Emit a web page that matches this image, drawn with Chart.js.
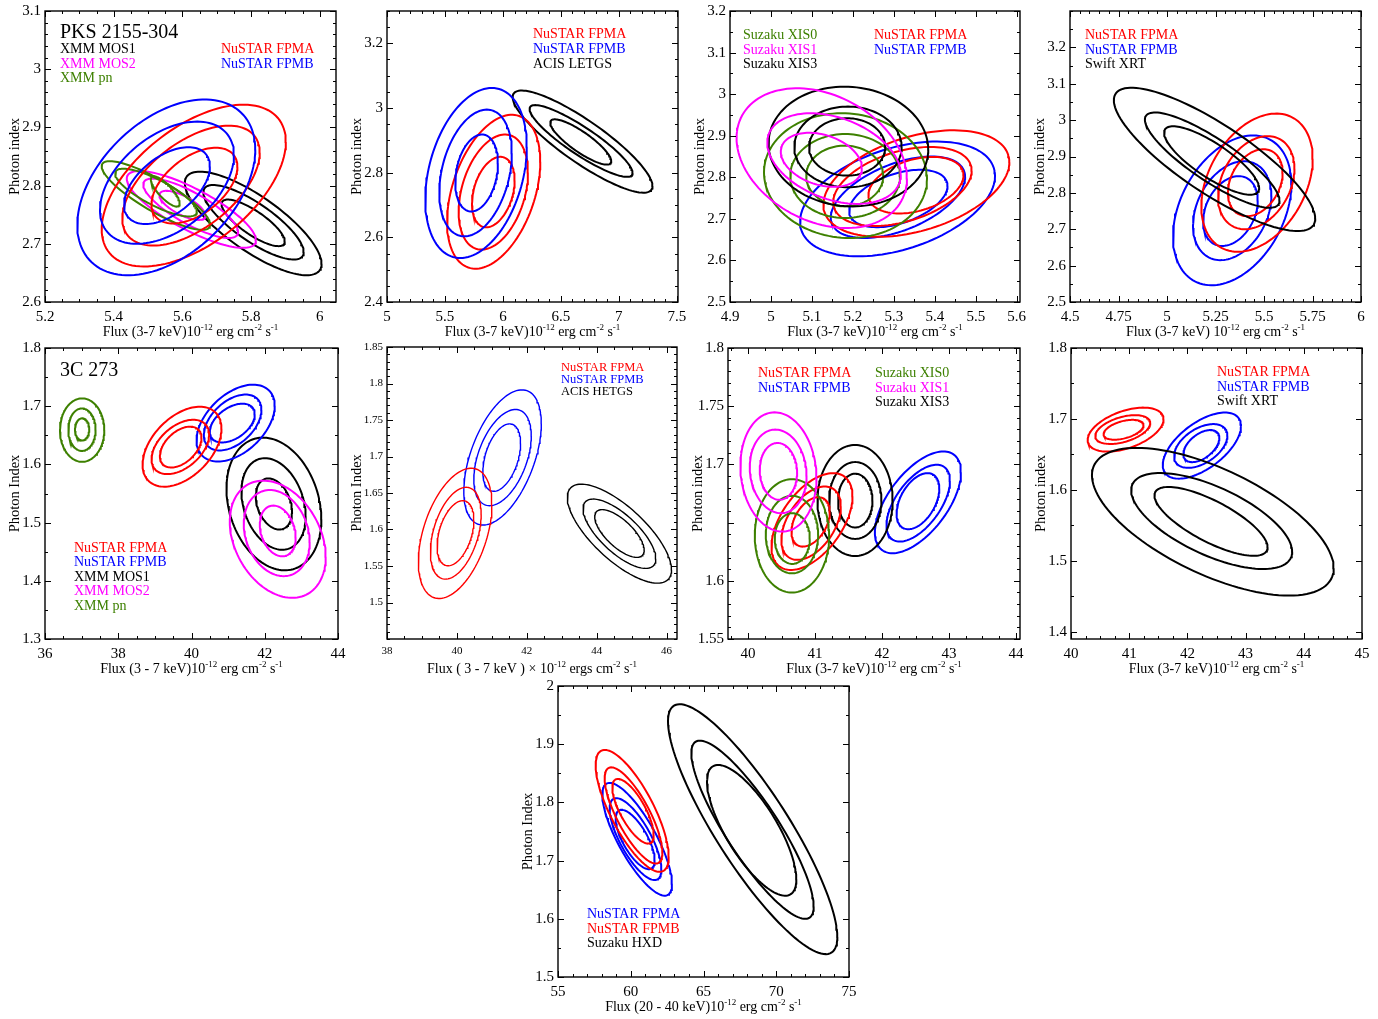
<!DOCTYPE html>
<html>
<head>
<meta charset="utf-8"/>
<title>Flux vs photon index contours</title>
<style>
  body { margin: 0; background: #fff; }
  #wrap { position: relative; width: 1378px; height: 1019px; overflow: hidden; }
  .pane { position: absolute; }
</style>
</head>
<body>
<div id="wrap"></div>
<script src="https://cdn.jsdelivr.net/npm/chart.js"></script>
<script>
// each contour: [centre flux, centre photon index, half width (flux), half height (index), tilt]
// tilt = correlation, the top of the contour sits at flux = centre + halfwidth * tilt

// PKS 2155-304 with XMM
const pksXmm_fpma = [[5.633, 2.800, 0.268, 0.139, 0.54], [5.625, 2.800, 0.200, 0.103, 0.55], [5.635, 2.800, 0.125, 0.065, 0.5]];
const pksXmm_fpmb = [[5.553, 2.797, 0.259, 0.151, 0.43], [5.555, 2.805, 0.195, 0.105, 0.45], [5.555, 2.800, 0.125, 0.066, 0.5]];
const pksXmm_pn   = [[5.523, 2.783, 0.158, 0.059, -0.85], [5.523, 2.788, 0.119, 0.041, -0.8], [5.550, 2.790, 0.042, 0.026, -0.8]];
const pksXmm_mos2 = [[5.626, 2.759, 0.188, 0.066, -0.8], [5.624, 2.761, 0.138, 0.051, -0.8], [5.600, 2.766, 0.067, 0.025, -0.7]];
const pksXmm_mos1 = [[5.806, 2.735, 0.199, 0.089, -0.78], [5.807, 2.737, 0.146, 0.064, -0.8], [5.806, 2.736, 0.092, 0.040, -0.8]];
const pksXmm_xTicks = [5.2, 5.4, 5.6, 5.8, 6];
const pksXmm_yTicks = [2.6, 2.7, 2.8, 2.9, 3, 3.1];

// PKS 2155-304 with Chandra LETGS
const pksLetg_fpma = [[5.920, 2.741, 0.402, 0.238, 0.39], [5.917, 2.740, 0.299, 0.178, 0.34], [5.917, 2.740, 0.184, 0.109, 0.33]];
const pksLetg_fpmb = [[5.768, 2.799, 0.438, 0.263, 0.31], [5.764, 2.799, 0.313, 0.196, 0.31], [5.773, 2.799, 0.184, 0.119, 0.25]];
const pksLetg_acis = [[6.687, 2.896, 0.603, 0.158, -0.87], [6.674, 2.898, 0.444, 0.111, -0.89], [6.671, 2.895, 0.263, 0.070, -0.85]];
const pksLetg_xTicks = [5, 5.5, 6, 6.5, 7, 7.5];
const pksLetg_yTicks = [2.4, 2.6, 2.8, 3, 3.2];

// PKS 2155-304 with Suzaku
const pksSuz_xis0 = [[5.182, 2.804, 0.199, 0.150, -0.05], [5.181, 2.803, 0.134, 0.101, 0], [5.180, 2.803, 0.094, 0.073, 0]];
const pksSuz_xis1 = [[5.124, 2.846, 0.208, 0.168, -0.29], [5.154, 2.845, 0.163, 0.109, -0.35], [5.123, 2.842, 0.099, 0.065, -0.3]];
const pksSuz_xis3 = [[5.189, 2.874, 0.195, 0.144, -0.05], [5.188, 2.873, 0.131, 0.097, 0], [5.186, 2.873, 0.093, 0.069, 0]];
const pksSuz_fpma = [[5.355, 2.785, 0.227, 0.128, 0.4], [5.321, 2.778, 0.169, 0.095, 0.4], [5.354, 2.781, 0.116, 0.068, 0.35]];
const pksSuz_fpmb = [[5.309, 2.748, 0.238, 0.138, 0.4], [5.310, 2.752, 0.164, 0.098, 0.5], [5.311, 2.749, 0.120, 0.069, 0.44]];
const pksSuz_xTicks = [4.9, 5, 5.1, 5.2, 5.3, 5.4, 5.5, 5.6];
const pksSuz_yTicks = [2.5, 2.6, 2.7, 2.8, 2.9, 3, 3.1, 3.2];

// PKS 2155-304 with Swift
const pksXrt_fpma = [[5.464, 2.828, 0.287, 0.190, 0.345], [5.460, 2.828, 0.197, 0.128, 0.3], [5.455, 2.828, 0.141, 0.092, 0.3]];
const pksXrt_fpmb = [[5.336, 2.752, 0.305, 0.206, 0.35], [5.336, 2.751, 0.202, 0.136, 0.3], [5.327, 2.750, 0.141, 0.096, 0.3]];
const pksXrt_xrt  = [[5.245, 2.892, 0.519, 0.197, -0.825], [5.233, 2.890, 0.347, 0.131, -0.85], [5.230, 2.889, 0.245, 0.094, -0.81]];
const pksXrt_xTicks = [4.5, 4.75, 5, 5.25, 5.5, 5.75, 6];
const pksXrt_yTicks = [2.5, 2.6, 2.7, 2.8, 2.9, 3, 3.1, 3.2];

// 3C 273 with XMM
const c3Xmm_fpma = [[39.741, 1.6304, 1.077, 0.0687, 0.45], [39.695, 1.6300, 0.786, 0.0467, 0.45], [39.705, 1.6298, 0.568, 0.0351, 0.45]];
const c3Xmm_fpmb = [[41.205, 1.6710, 1.068, 0.0660, 0.45], [41.123, 1.6720, 0.786, 0.0480, 0.45], [41.114, 1.6710, 0.614, 0.0333, 0.45]];
const c3Xmm_mos1 = [[42.250, 1.5320, 1.295, 0.1140, -0.23], [42.241, 1.5320, 0.877, 0.0787, -0.27], [42.250, 1.5320, 0.495, 0.0439, -0.3]];
const c3Xmm_mos2 = [[42.355, 1.4714, 1.310, 0.1007, -0.3], [42.327, 1.4820, 0.900, 0.0740, -0.21], [42.355, 1.4856, 0.490, 0.0436, -0.25]];
const c3Xmm_pn   = [[37.014, 1.6589, 0.605, 0.0545, 0], [37.009, 1.6597, 0.373, 0.0365, 0], [37.013, 1.6602, 0.195, 0.0190, 0]];
const c3Xmm_xTicks = [36, 38, 40, 42, 44];
const c3Xmm_yTicks = [1.3, 1.4, 1.5, 1.6, 1.7, 1.8];

// 3C 273 with Chandra HETGS
const c3Hetg_fpma = [[39.950, 1.5947, 1.052, 0.0892, 0.437], [39.969, 1.5949, 0.726, 0.0629, 0.41], [39.960, 1.5949, 0.526, 0.0446, 0.4]];
const c3Hetg_fpmb = [[41.307, 1.6987, 1.109, 0.0926, 0.5], [41.307, 1.6985, 0.822, 0.0659, 0.45], [41.283, 1.6985, 0.540, 0.0462, 0.42]];
const c3Hetg_acis = [[44.652, 1.5943, 1.491, 0.0678, -0.73], [44.652, 1.5942, 1.042, 0.0475, -0.72], [44.653, 1.5945, 0.708, 0.0327, -0.7]];
const c3Hetg_xTicks = [38, 40, 42, 44, 46];
const c3Hetg_yTicks = [1.5, 1.55, 1.6, 1.65, 1.7, 1.75, 1.8, 1.85];

// 3C 273 with Suzaku XIS
const c3Suz_xis1 = [[40.453, 1.6935, 0.568, 0.0512, -0.1], [40.449, 1.6940, 0.424, 0.0359, -0.1], [40.453, 1.6940, 0.279, 0.0244, -0.05]];
const c3Suz_xis0 = [[40.655, 1.6386, 0.555, 0.0487, 0], [40.655, 1.6397, 0.391, 0.0333, 0], [40.660, 1.6363, 0.262, 0.0218, 0]];
const c3Suz_fpma = [[40.954, 1.6509, 0.605, 0.0416, 0.52], [40.941, 1.6495, 0.444, 0.0315, 0.46], [40.934, 1.6506, 0.286, 0.0212, 0.4]];
const c3Suz_xis3 = [[41.597, 1.6690, 0.561, 0.0477, 0], [41.600, 1.6690, 0.391, 0.0330, 0], [41.600, 1.6689, 0.257, 0.0231, 0]];
const c3Suz_fpmb = [[42.536, 1.6674, 0.643, 0.0437, 0.59], [42.540, 1.6667, 0.474, 0.0330, 0.58], [42.536, 1.6684, 0.319, 0.0241, 0.45]];
const c3Suz_xTicks = [40, 41, 42, 43, 44];
const c3Suz_yTicks = [1.55, 1.6, 1.65, 1.7, 1.75, 1.8];
const c3Suz_yUnlabelled = [1.65];

// 3C 273 with Swift
const c3Xrt_fpma = [[40.938, 1.6850, 0.652, 0.0310, 0.47], [40.889, 1.6851, 0.472, 0.0203, 0.45], [40.903, 1.6848, 0.343, 0.0140, 0.45]];
const c3Xrt_fpmb = [[42.249, 1.6625, 0.672, 0.0466, 0.59], [42.229, 1.6620, 0.458, 0.0308, 0.47], [42.240, 1.6618, 0.309, 0.0226, 0.5]];
const c3Xrt_xrt  = [[42.437, 1.5552, 2.077, 0.1040, -0.63], [42.417, 1.5562, 1.383, 0.0676, -0.64], [42.406, 1.5557, 0.972, 0.0485, -0.75]];
const c3Xrt_xTicks = [40, 41, 42, 43, 44, 45];
const c3Xrt_yTicks = [1.4, 1.5, 1.6, 1.7, 1.8];

// 3C 273 with Suzaku HXD (20-40 keV)
const c3Hxd_fpmb = [[60.098, 1.7854, 2.509, 0.1047, -0.75], [60.189, 1.7776, 1.982, 0.0826, -0.77], [60.155, 1.7848, 1.420, 0.0556, -0.73]];
const c3Hxd_fpma = [[60.441, 1.7366, 2.394, 0.0969, -0.79], [60.327, 1.7369, 1.776, 0.0704, -0.74], [60.304, 1.7363, 1.341, 0.0510, -0.7]];
const c3Hxd_hxd  = [[68.379, 1.7540, 5.819, 0.2147, -0.862], [68.368, 1.7530, 4.204, 0.1531, -0.86], [68.310, 1.7520, 3.070, 0.1123, -0.75]];
const c3Hxd_xTicks = [55, 60, 65, 70, 75];
const c3Hxd_yTicks = [1.5, 1.6, 1.7, 1.8, 1.9, 2];

const RED = '#ff0000', BLUE = '#0000ff', BLACK = '#000000', MAG = '#ff00ff', GREEN = '#3d8000';
const SERIF = '"Liberation Serif", "DejaVu Serif", serif';
const FLUX = 'Flux (3-7 keV)10^{-12} erg cm^{-2} s^{-1}';

// closed outline of one contour, in data units
function ring(c) {
    const [cx, cy, a, b, r] = c;
    const s = Math.sqrt(1 - r * r);
    const pts = [];
    for (let i = 0; i <= 120; i++) {
        const t = i / 120 * 2 * Math.PI;
        pts.push({ x: cx + a * Math.cos(t), y: cy + b * (r * Math.cos(t) + s * Math.sin(t)) });
    }
    return pts;
}

const panels = [
    { box: [45, 10, 336, 302], xr: [5.2, 6.047], yr: [2.6, 3.1], xt: pksXmm_xTicks, yt: pksXmm_yTicks, xm: 0.05, ym: 0.02,
      xTitle: FLUX, yTitle: 'Photon index',
      sets: [[pksXmm_fpmb, BLUE], [pksXmm_fpma, RED], [pksXmm_pn, GREEN], [pksXmm_mos2, MAG], [pksXmm_mos1, BLACK]],
      notes: [['PKS 2155-304', 60, 33, BLACK, 20], ['XMM MOS1', 60, 49, BLACK], ['XMM MOS2', 60, 64, MAG], ['XMM pn', 60, 78, GREEN],
              ['NuSTAR FPMA', 221, 49, RED], ['NuSTAR FPMB', 221, 64, BLUE]] },
    { box: [387, 10, 678, 302], xr: [5, 7.51], yr: [2.4, 3.3], xt: pksLetg_xTicks, yt: pksLetg_yTicks, xm: 0.1, ym: 0.05,
      xTitle: FLUX, yTitle: 'Photon index',
      sets: [[pksLetg_fpmb, BLUE], [pksLetg_fpma, RED], [pksLetg_acis, BLACK]],
      notes: [['NuSTAR FPMA', 533, 34, RED], ['NuSTAR FPMB', 533, 49, BLUE], ['ACIS LETGS', 533, 64, BLACK]] },
    { box: [730, 10, 1020, 302], xr: [4.9, 5.608], yr: [2.5, 3.2], xt: pksSuz_xTicks, yt: pksSuz_yTicks, xm: 0.05, ym: 0.05,
      xTitle: FLUX, yTitle: 'Photon index',
      sets: [[pksSuz_xis1, MAG], [pksSuz_xis3, BLACK], [pksSuz_xis0, GREEN], [pksSuz_fpma, RED], [pksSuz_fpmb, BLUE]],
      notes: [['Suzaku XIS0', 743, 35, GREEN], ['Suzaku XIS1', 743, 50, MAG], ['Suzaku XIS3', 743, 64, BLACK],
              ['NuSTAR FPMA', 874, 35, RED], ['NuSTAR FPMB', 874, 50, BLUE]] },
    { box: [1070, 10, 1361, 302], xr: [4.5, 6], yr: [2.5, 3.3], xt: pksXrt_xTicks, yt: pksXrt_yTicks, xm: 0.05, ym: 0.05,
      xTitle: 'Flux (3-7 keV) 10^{-12} erg cm^{-2} s^{-1}', yTitle: 'Photon index',
      sets: [[pksXrt_xrt, BLACK], [pksXrt_fpma, RED], [pksXrt_fpmb, BLUE]],
      notes: [['NuSTAR FPMA', 1085, 35, RED], ['NuSTAR FPMB', 1085, 50, BLUE], ['Swift XRT', 1085, 64, BLACK]] },
    { box: [45, 347, 338, 639], xr: [36, 44], yr: [1.3, 1.8], xt: c3Xmm_xTicks, yt: c3Xmm_yTicks, xm: 0.5, ym: 0.05,
      xTitle: 'Flux (3 - 7 keV)10^{-12} erg cm^{-2} s^{-1}', yTitle: 'Photon Index',
      sets: [[c3Xmm_pn, GREEN], [c3Xmm_fpma, RED], [c3Xmm_fpmb, BLUE], [c3Xmm_mos2, MAG], [c3Xmm_mos1, BLACK]],
      notes: [['3C 273', 60, 371, BLACK, 20], ['NuSTAR FPMA', 74, 548, RED], ['NuSTAR FPMB', 74, 562, BLUE], ['XMM MOS1', 74, 577, BLACK],
              ['XMM MOS2', 74, 591, MAG], ['XMM pn', 74, 606, GREEN]] },
    { box: [387, 347, 677, 639], xr: [38, 46.3], yr: [1.45, 1.85], xt: c3Hetg_xTicks, yt: c3Hetg_yTicks, xm: 0.5, ym: 0.01,
      xTitle: 'Flux ( 3 - 7 keV ) \u00d7 10^{-12} ergs cm^{-2} s^{-1}', yTitle: 'Photon Index', lw: 1.4, fs: 11, ls: 12.5,
      sets: [[c3Hetg_fpma, RED], [c3Hetg_fpmb, BLUE], [c3Hetg_acis, BLACK]],
      notes: [['NuSTAR FPMA', 561, 368, RED], ['NuSTAR FPMB', 561, 380, BLUE], ['ACIS HETGS', 561, 392, BLACK]] },
    { box: [728, 347, 1020, 639], xr: [39.7, 44.06], yr: [1.55, 1.8], xt: c3Suz_xTicks, yt: c3Suz_yTicks, skipY: c3Suz_yUnlabelled, xm: 0.25, ym: 0.01,
      xTitle: FLUX, yTitle: 'Photon index',
      sets: [[c3Suz_xis1, MAG], [c3Suz_xis0, GREEN], [c3Suz_fpma, RED], [c3Suz_xis3, BLACK], [c3Suz_fpmb, BLUE]],
      notes: [['NuSTAR FPMA', 758, 373, RED], ['NuSTAR FPMB', 758, 388, BLUE],
              ['Suzaku XIS0', 875, 373, GREEN], ['Suzaku XIS1', 875, 388, MAG], ['Suzaku XIS3', 875, 402, BLACK]] },
    { box: [1071, 347, 1362, 639], xr: [40, 45], yr: [1.39, 1.8], xt: c3Xrt_xTicks, yt: c3Xrt_yTicks, xm: 0.25, ym: 0.05,
      xTitle: FLUX, yTitle: 'Photon index',
      sets: [[c3Xrt_xrt, BLACK], [c3Xrt_fpma, RED], [c3Xrt_fpmb, BLUE]],
      notes: [['NuSTAR FPMA', 1217, 372, RED], ['NuSTAR FPMB', 1217, 387, BLUE], ['Swift XRT', 1217, 401, BLACK]] },
    { box: [558, 685, 849, 977], xr: [55, 75], yr: [1.5, 2], xt: c3Hxd_xTicks, yt: c3Hxd_yTicks, xm: 1, ym: 0.05,
      xTitle: 'Flux (20 - 40 keV)10^{-12} erg cm^{-2} s^{-1}', yTitle: 'Photon Index',
      sets: [[c3Hxd_hxd, BLACK], [c3Hxd_fpmb, RED], [c3Hxd_fpma, BLUE]],
      notes: [['NuSTAR FPMA', 587, 914, BLUE], ['NuSTAR FPMB', 587, 929, RED], ['Suzaku HXD', 587, 943, BLACK]] }
];

// text with ^{...} parts raised as superscripts, centred on cx
function drawRich(ctx, str, cx, cy, size) {
    const parts = str.split(/(\^\{[^}]*\})/).filter(s => s.length);
    const small = Math.round(size * 0.65);
    const items = parts.map(s => s.startsWith('^{') ? { t: s.slice(2, -1), sup: true } : { t: s, sup: false });
    let w = 0;
    items.forEach(it => {
        ctx.font = (it.sup ? small : size) + 'px ' + SERIF;
        it.w = ctx.measureText(it.t).width;
        w += it.w;
    });
    let x = cx - w / 2;
    ctx.textAlign = 'left';
    ctx.textBaseline = 'alphabetic';
    items.forEach(it => {
        ctx.font = (it.sup ? small : size) + 'px ' + SERIF;
        ctx.fillText(it.t, x, cy + size * 0.33 - (it.sup ? size * 0.42 : 0));
        x += it.w;
    });
}

function near(list, v) {
    return (list || []).some(u => Math.abs(u - v) < 1e-7);
}

function steps(min, max, step) {
    const out = [];
    for (let k = Math.ceil(min / step - 1e-6); k * step <= max + 1e-9; k++) out.push(+(k * step).toFixed(6));
    return out;
}

const wrap = document.getElementById('wrap');
const padL = 50, padT = 12, padR = 22, padB = 46;

panels.forEach(p => {
    const [L, T, R, B] = p.box;
    const offX = L - padL, offY = T - padT;
    const div = document.createElement('div');
    div.className = 'pane';
    div.style.left = offX + 'px';
    div.style.top = offY + 'px';
    const cv = document.createElement('canvas');
    cv.width = R - L + padL + padR;
    cv.height = B - T + padT + padB;
    cv.style.width = cv.width + 'px';
    cv.style.height = cv.height + 'px';
    div.appendChild(cv);
    wrap.appendChild(div);

    const fs = p.fs || 15;
    const datasets = [];
    p.sets.forEach(([arr, col]) => {
        arr.forEach(c => datasets.push({
            data: ring(c), borderColor: col, borderWidth: p.lw || 2, showLine: true,
            pointRadius: 0, fill: false, tension: 0
        }));
    });

    const frame = {
        id: 'frame',
        afterDraw(chart) {
            const ctx = chart.ctx, a = chart.chartArea;
            const xs = chart.scales.x, ys = chart.scales.y;
            ctx.save();
            ctx.strokeStyle = '#000';
            ctx.lineWidth = 1;
            ctx.beginPath();
            steps(xs.min, xs.max, p.xm).forEach(v => {
                const px = Math.round(xs.getPixelForValue(v)) + 0.5;
                const len = near(p.xt, v) ? 6 : 3;
                ctx.moveTo(px, a.bottom); ctx.lineTo(px, a.bottom - len);
                ctx.moveTo(px, a.top); ctx.lineTo(px, a.top + len);
            });
            steps(ys.min, ys.max, p.ym).forEach(v => {
                const py = Math.round(ys.getPixelForValue(v)) + 0.5;
                const len = near(p.yt, v) ? 6 : 3;
                ctx.moveTo(a.left, py); ctx.lineTo(a.left + len, py);
                ctx.moveTo(a.right, py); ctx.lineTo(a.right - len, py);
            });
            ctx.stroke();
            ctx.lineWidth = 1.4;
            ctx.strokeRect(a.left, a.top, a.right - a.left, a.bottom - a.top);

            ctx.fillStyle = '#000';
            drawRich(ctx, p.xTitle, (a.left + a.right) / 2, a.bottom + 29, 14);

            ctx.save();
            ctx.translate(a.left - 30, (a.top + a.bottom) / 2);
            ctx.rotate(-Math.PI / 2);
            ctx.font = '14.5px ' + SERIF;
            ctx.textAlign = 'center';
            ctx.textBaseline = 'middle';
            ctx.fillText(p.yTitle, 0, 0);
            ctx.restore();

            ctx.textAlign = 'left';
            ctx.textBaseline = 'middle';
            p.notes.forEach(([txt, x, y, col, size]) => {
                ctx.font = (size || p.ls || 14) + 'px ' + SERIF;
                ctx.fillStyle = col;
                ctx.fillText(txt, x - offX, y - offY);
            });
            ctx.restore();
        }
    };

    new Chart(cv, {
        type: 'scatter',
        data: { datasets: datasets },
        options: {
            responsive: false,
            animation: false,
            events: [],
            layout: { padding: { left: 0, top: padT, right: padR, bottom: 0 } },
            plugins: { legend: { display: false }, tooltip: { enabled: false } },
            scales: {
                x: {
                    type: 'linear', min: p.xr[0], max: p.xr[1],
                    grid: { display: false, drawTicks: false },
                    border: { display: false },
                    afterFit: s => { s.height = padB; },
                    afterBuildTicks: s => { s.ticks = p.xt.map(v => ({ value: v })); },
                    ticks: {
                        padding: 6, color: '#000', autoSkip: false, maxRotation: 0,
                        font: { family: SERIF, size: fs }, callback: v => String(v)
                    }
                },
                y: {
                    type: 'linear', min: p.yr[0], max: p.yr[1],
                    grid: { display: false, drawTicks: false },
                    border: { display: false },
                    afterFit: s => { s.width = padL; },
                    afterBuildTicks: s => { s.ticks = p.yt.map(v => ({ value: v })); },
                    ticks: {
                        padding: 4, color: '#000', autoSkip: false,
                        font: { family: SERIF, size: fs }, callback: v => near(p.skipY, v) ? '' : String(v)
                    }
                }
            }
        },
        plugins: [frame]
    });
});
</script>
</body>
</html>
